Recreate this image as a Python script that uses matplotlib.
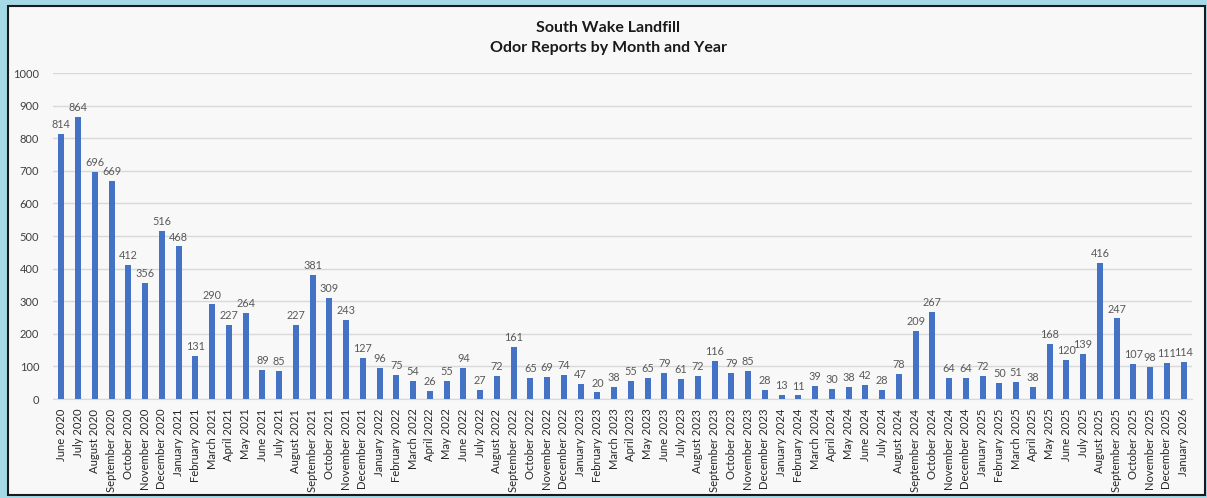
import matplotlib.pyplot as plt
from matplotlib.patches import Rectangle
import numpy as np

plt.rcParams['font.family'] = ['Lato', 'DejaVu Sans']

months = ["June 2020", "July 2020", "August 2020", "September 2020", "October 2020",
          "November 2020", "December 2020",
          "January 2021", "February 2021", "March 2021", "April 2021", "May 2021", "June 2021",
          "July 2021", "August 2021", "September 2021", "October 2021", "November 2021", "December 2021",
          "January 2022", "February 2022", "March 2022", "April 2022", "May 2022", "June 2022",
          "July 2022", "August 2022", "September 2022", "October 2022", "November 2022", "December 2022",
          "January 2023", "February 2023", "March 2023", "April 2023", "May 2023", "June 2023",
          "July 2023", "August 2023", "September 2023", "October 2023", "November 2023", "December 2023",
          "January 2024", "February 2024", "March 2024", "April 2024", "May 2024", "June 2024",
          "July 2024", "August 2024", "September 2024", "October 2024", "November 2024", "December 2024",
          "January 2025", "February 2025", "March 2025", "April 2025", "May 2025", "June 2025",
          "July 2025", "August 2025", "September 2025", "October 2025", "November 2025", "December 2025",
          "January 2026"]
reports = [814, 864, 696, 669, 412, 356, 516,
           468, 131, 290, 227, 264, 89, 85, 227, 381, 309, 243, 127,
           96, 75, 54, 26, 55, 94, 27, 72, 161, 65, 69, 74,
           47, 20, 38, 55, 65, 79, 61, 72, 116, 79, 85, 28,
           13, 11, 39, 30, 38, 42, 28, 78, 209, 267, 64, 64,
           72, 50, 51, 38, 168, 120, 139, 416, 247, 107, 98, 111,
           114]
yticks = [0, 100, 200, 300, 400, 500, 600, 700, 800, 900, 1000]

W, H = 1207, 498
fig = plt.figure(figsize=(W / 100, H / 100), dpi=100)
fig.patch.set_facecolor('#a6d9e6')

# white chart panel with dark frame
panel = Rectangle((8 / W, 1 - 495 / H), (1205 - 8) / W, (495 - 6) / H,
                  transform=fig.transFigure, facecolor='#f8f8f8',
                  edgecolor='#1a1a1a', linewidth=1.5, zorder=-5)
fig.patches.append(panel)

ax = fig.add_axes([53 / W, 1 - 399 / H, (1192 - 53) / W, (399 - 73) / H])
ax.set_facecolor('none')

x = np.arange(len(months))
bars = ax.bar(x, reports, width=0.36, color='#4472c4', zorder=3)
for xi, v in zip(x, reports):
    ax.text(xi, v + 12, str(v), ha='center', va='bottom', fontsize=7.8, color='#595959')

ax.set_xlim(-0.5, len(months) - 0.5)
ax.set_ylim(0, 1000)
ax.set_yticks(yticks)
ax.set_xticks(x)
ax.set_xticklabels(months, rotation=90, fontsize=8.1, color='#262626')
ax.tick_params(axis='y', labelsize=8, colors='#404040', length=0, pad=10)
ax.tick_params(axis='x', length=0, pad=7)
ax.grid(axis='y', color='#d9d9d9', linewidth=1, zorder=0)
for s in ['top', 'right', 'left']:
    ax.spines[s].set_visible(False)
ax.spines['bottom'].set_color('#d9d9d9')

fig.text(608 / W, 1 - 28 / H, "South Wake Landfill", ha='center', va='center',
         fontsize=11.5, fontweight='bold', color='#1a1a1a')
fig.text(608 / W, 1 - 48 / H, "Odor Reports by Month and Year", ha='center', va='center',
         fontsize=11.5, fontweight='bold', color='#1a1a1a')

plt.savefig("out.png", dpi=100, facecolor=fig.get_facecolor())
